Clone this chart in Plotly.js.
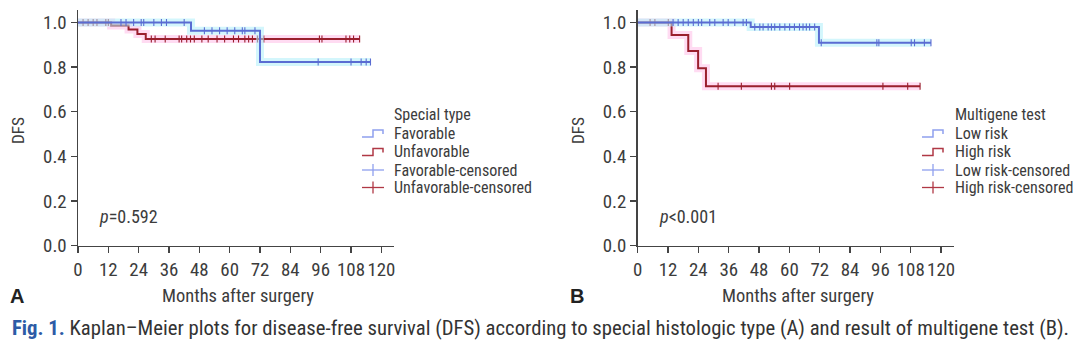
<!DOCTYPE html>
<html>
<head>
<meta charset="utf-8">
<script src="https://cdn.plot.ly/plotly-3.0.1.min.js"></script>
<style>html,body{margin:0;padding:0;background:#fff;}#chart{width:1080px;height:350px;}</style>
</head>
<body>
<div id="chart"></div>
<script>
// ---------- DATA ----------
// Panel A: Special type
const aFavTimes = [44.7, 72.0];
const aFavSurv = [0.963, 0.823];
const aFavEnd = 115.7;
const aFavCensor = [17, 19, 22, 25, 26, 30, 33, 35, 42, 50, 53, 56, 59, 62, 65, 66, 70, 95, 108, 112, 114, 115.7];

const aUnfTimes = [13.1, 20.0, 23.5, 26.8];
const aUnfSurv = [0.987, 0.969, 0.948, 0.926];
const aUnfEnd = 111.4;
const aUnfCensor = [2, 4, 6, 7.5, 11, 12, 29, 30.5, 34.5, 40, 41, 43, 44.5, 46, 49, 51.5, 55, 58, 61.5, 63.5, 66, 67.5, 69, 71, 73.5, 95.5, 96.5, 106, 107.5, 109, 111.4];

// Panel B: Multigene test
const bLowTimes = [44.7, 71.7];
const bLowSurv = [0.980, 0.909];
const bLowEnd = 116;
const bLowCensor = [14, 16, 18, 20, 22, 24, 25.3, 28.5, 30.5, 33.8, 35.8, 38.4, 41.7, 43,
  46.3, 48.3, 49.6, 51.6, 52.9, 54.2, 56.2, 58.2, 60.1, 62, 64, 65.4, 66.7, 68, 70,
  72.6, 94.6, 95.4, 108.2, 109.5, 113.4, 116];

const bHighTimes = [13.4, 20.0, 23.9, 27.0];
const bHighSurv = [0.944, 0.872, 0.795, 0.714];
const bHighEnd = 111.7;
const bHighCensor = [4.9, 6.8, 12.1, 31.8, 41, 52.9, 54.2, 60.1, 97, 106.8, 111.7];

const xTicks = [0, 12, 24, 36, 48, 60, 72, 84, 96, 108, 120];
const yTicks = [0, 0.2, 0.4, 0.6, 0.8, 1.0];

const legendA = {title: 'Special type', items: ['Favorable', 'Unfavorable', 'Favorable-censored', 'Unfavorable-censored']};
const legendB = {title: 'Multigene test', items: ['Low risk', 'High risk', 'Low risk-censored', 'High risk-censored']};
const pTextA = '<i>p</i>=0.592';
const pTextB = '<i>p</i>&lt;0.001';
const xTitle = 'Months after surgery';
const yTitle = 'DFS';
const captionLead = 'Fig. 1.';
const captionRest = 'Kaplan\u2013Meier plots for disease-free survival (DFS) according to special histologic type (A) and result of multigene test (B).';

// ---------- STYLE ----------
const BLUE = '#5a6cd2';
const RED = '#9a1f2d';
const HALO_BLUE = 'rgba(175,238,250,0.55)';
const HALO_RED = 'rgba(255,190,232,0.55)';
const FONT = '"Roboto Condensed", "Liberation Sans Narrow", "Arial Narrow", Roboto, sans-serif';
const TXT = '#3c3c3c';
const W = 1080, H = 350;

// fit a font size so that a text reaches a target pixel width
const cv = document.createElement('canvas').getContext('2d');
function textW(text, bold) { cv.font = (bold ? 'bold ' : '') + '100px ' + FONT; return cv.measureText(text).width; }
function fit(text, target, maxSize) { return Math.min(maxSize || 99, 100 * target / textW(text)); }

const tickSize = fit('120', 28, 20);
const legSize = fit('Unfavorable-censored', 138, 19);
const xTitleSize = fit(xTitle, 152, 20);
const pSize = fit('p=0.592', 58, 20);
const yTitleSize = fit(yTitle, 27, 20);
const capSize = Math.min(23, 100 * 1058 / (textW(captionLead + ' ', true) + textW(captionRest)));

function stepXY(times, surv, end) {
  return {x: [0].concat(times, [end]), y: [1].concat(surv, [surv[surv.length - 1]])};
}
function survAt(times, surv, t) {
  let s = 1;
  for (let i = 0; i < times.length; i++) if (times[i] <= t) s = surv[i];
  return s;
}
function curveTraces(times, surv, end, censor, color, halo, xa, ya) {
  const st = stepXY(times, surv, end);
  return [
    {x: st.x, y: st.y, xaxis: xa, yaxis: ya, mode: 'lines', line: {shape: 'hv', color: halo, width: 8}, hoverinfo: 'skip', showlegend: false},
    {x: st.x, y: st.y, xaxis: xa, yaxis: ya, mode: 'lines', line: {shape: 'hv', color: color, width: 2}, showlegend: false},
    {x: censor, y: censor.map(t => survAt(times, surv, t)), xaxis: xa, yaxis: ya, mode: 'markers',
     marker: {symbol: 'line-ns-open', size: 5, color: color, line: {color: color, width: 1.1}}, showlegend: false}
  ];
}

const data = [].concat(
  curveTraces(aUnfTimes, aUnfSurv, aUnfEnd, aUnfCensor, RED, HALO_RED, 'x', 'y'),
  curveTraces(aFavTimes, aFavSurv, aFavEnd, aFavCensor, BLUE, HALO_BLUE, 'x', 'y'),
  curveTraces(bHighTimes, bHighSurv, bHighEnd, bHighCensor, RED, HALO_RED, 'x2', 'y2'),
  curveTraces(bLowTimes, bLowSurv, bLowEnd, bLowCensor, BLUE, HALO_BLUE, 'x2', 'y2')
);

const px = v => v / W;
const py = v => 1 - v / H;

function xAxis(domain) {
  return {
    domain: domain, range: [0, 125], tickvals: xTicks, tickangle: 0, ticks: 'outside', ticklen: 6, tickwidth: 1.3,
    tickcolor: '#444', showline: true, linecolor: '#444', linewidth: 1.5, showgrid: false, zeroline: false,
    tickfont: {family: FONT, size: tickSize, color: TXT}, fixedrange: true
  };
}
function yAxis(domain, anchor) {
  return {
    domain: domain, range: [0, 1.056], tickvals: yTicks, tickformat: '.1f', ticks: 'outside', ticklen: 6, tickwidth: 1.3,
    tickcolor: '#444', showline: true, linecolor: '#444', linewidth: 1.5, showgrid: false, zeroline: false,
    tickfont: {family: FONT, size: tickSize, color: TXT}, anchor: anchor, fixedrange: true
  };
}

const yDom = [1 - 245.7 / H, 1 - 10 / H];
const annotations = [];
const shapes = [];
function txt(text, x, y, opts) {
  annotations.push(Object.assign({text: text, x: px(x), y: py(y), xref: 'paper', yref: 'paper', showarrow: false,
    xanchor: 'left', yanchor: 'middle', font: {family: FONT, size: legSize, color: TXT}}, opts || {}));
}

function legend(def, symX, textX, yTitleP, yItems) {
  txt(def.title, textX, yTitleP);
  def.items.forEach((label, i) => {
    const y = yItems[i];
    txt(label, textX, y);
    const c = (i % 2 === 0) ? '#8fa0ee' : '#b03845';
    if (i < 2) {
      const path = 'M ' + px(symX) + ' ' + py(y + 4) + ' L ' + px(symX + 11) + ' ' + py(y + 4) +
        ' L ' + px(symX + 11) + ' ' + py(y - 3) + ' L ' + px(symX + 21) + ' ' + py(y - 3) + ' L ' + px(symX + 21) + ' ' + py(y + 1);
      shapes.push({type: 'path', xref: 'paper', yref: 'paper', path: path, line: {color: c, width: 1.5}});
    } else {
      shapes.push({type: 'line', xref: 'paper', yref: 'paper', x0: px(symX), x1: px(symX + 22), y0: py(y), y1: py(y), line: {color: c, width: 1.3}});
      shapes.push({type: 'line', xref: 'paper', yref: 'paper', x0: px(symX + 11), x1: px(symX + 11), y0: py(y - 6), y1: py(y + 6), line: {color: c, width: 1.3}});
    }
  });
}
legend(legendA, 362, 392, 115, [133, 151.5, 170, 187.5]);
legend(legendB, 922, 953, 115, [133, 151.5, 170, 187.5]);

// p-values
txt(pTextA, 97, 216, {font: {family: FONT, size: pSize, color: TXT}});
txt(pTextB, 657, 216, {font: {family: FONT, size: pSize, color: TXT}});
// axis titles
txt(yTitle, 18, 131, {xanchor: 'center', textangle: -90, font: {family: FONT, size: yTitleSize, color: TXT}});
txt(yTitle, 578, 131, {xanchor: 'center', textangle: -90, font: {family: FONT, size: yTitleSize, color: TXT}});
txt(xTitle, 237.5, 296, {xanchor: 'center', font: {family: FONT, size: xTitleSize, color: TXT}});
txt(xTitle, 797.5, 296, {xanchor: 'center', font: {family: FONT, size: xTitleSize, color: TXT}});
// panel letters
txt('<b>A</b>', 8, 296, {font: {family: 'Liberation Sans, Arial, sans-serif', size: 20, color: '#222'}});
txt('<b>B</b>', 568, 296, {font: {family: 'Liberation Sans, Arial, sans-serif', size: 20, color: '#222'}});
// caption
txt('<b><span style="color:#2d5ba6">' + captionLead + '</span></b> ' + captionRest,
  10, 328, {font: {family: FONT, size: capSize, color: '#333'}});

const layout = {
  width: W, height: H, margin: {l: 0, r: 0, t: 0, b: 0}, paper_bgcolor: '#fff', plot_bgcolor: 'rgba(0,0,0,0)',
  showlegend: false,
  xaxis: Object.assign(xAxis([78 / W, 394 / W]), {anchor: 'y'}),
  yaxis: yAxis(yDom, 'x'),
  xaxis2: Object.assign(xAxis([637.7 / W, 953.7 / W]), {anchor: 'y2'}),
  yaxis2: yAxis(yDom, 'x2'),
  annotations: annotations, shapes: shapes
};
Plotly.newPlot('chart', data, layout, {displayModeBar: false, staticPlot: true});
</script>
</body>
</html>
